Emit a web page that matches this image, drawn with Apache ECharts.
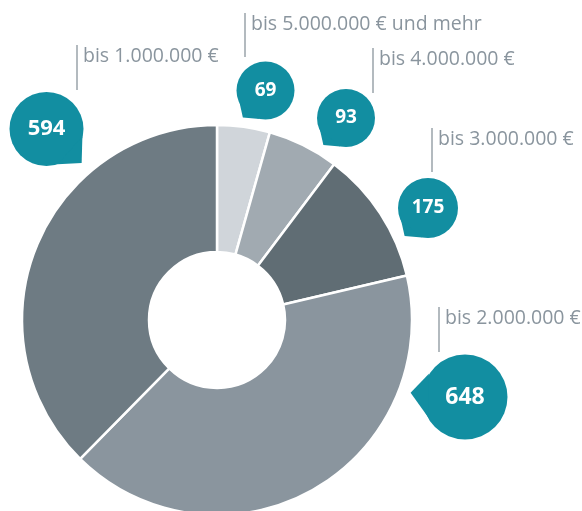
<!DOCTYPE html>
<html>
<head>
<meta charset="utf-8">
<script src="https://cdn.jsdelivr.net/npm/echarts@6/dist/echarts.min.js"></script>
<style>
  html, body { margin: 0; padding: 0; background: #fff; }
  #chart { width: 582px; height: 511px; }
</style>
</head>
<body>
<div id="chart"></div>
<script>
// Daten (im Uhrzeigersinn ab 12 Uhr)
const categories = ['bis 5.000.000 € und mehr', 'bis 4.000.000 €', 'bis 3.000.000 €', 'bis 2.000.000 €', 'bis 1.000.000 €']
const counts = [69, 93, 175, 648, 594]

// Farben der Segmente
const sliceColors = ['#d0d5da', '#a1aab1', '#606d74', '#8a959e', '#6e7b83']
const bubbleColor = '#128ea1'
const textColor = '#8a959e'

// Blasen: Mittelpunkt, Radius, Richtung der Spitze
const bubbles = [
  { x: 265.5, y: 90.5, r: 29, tail: 'bl', font: 19 },
  { x: 346, y: 118, r: 29, tail: 'bl', font: 19 },
  { x: 428, y: 208, r: 30, tail: 'bl', font: 19 },
  { x: 465, y: 397, r: 42.5, tail: 'l', font: 23 },
  { x: 46.5, y: 129, r: 37, tail: 'br', font: 22 }
]

// Beschriftungen: Linie links, Text daneben
const captions = [
  { x: 245, y1: 13, y2: 57 },
  { x: 373, y1: 48, y2: 93 },
  { x: 432, y1: 128, y2: 172 },
  { x: 439, y1: 307, y2: 352 },
  { x: 77, y1: 45, y2: 90 }
]

const chart = echarts.init(document.getElementById('chart'))

// Spitze der Sprechblase
const tailPoints = (b) => {
  const { x, y, r } = b
  if (b.tail === 'br') return [[x + r * 0.97, y + r * 0.2], [x + r * 0.95, y + r * 0.92], [x + r * 0.3, y + r * 0.95]]
  if (b.tail === 'bl') return [[x - r * 0.9, y + r * 0.4], [x - r * 0.78, y + r * 0.93], [x - r * 0.2, y + r * 0.98]]
  return [[x - r * 0.85, y - r * 0.55], [x - r * 1.28, y - r * 0.1], [x - r * 0.85, y + r * 0.5]]
}

const graphic = []
bubbles.forEach(b => {
  graphic.push({ type: 'polygon', shape: { points: tailPoints(b) }, style: { fill: bubbleColor }, z: 5 })
})
captions.forEach((c, i) => {
  graphic.push({ type: 'line', shape: { x1: c.x, y1: c.y1, x2: c.x, y2: c.y2 }, style: { stroke: '#9aa3aa', lineWidth: 1.5 } })
  graphic.push({
    type: 'text', x: c.x + 6, y: c.y1 + 11,
    style: { text: categories[i], fill: textColor, font: '19.5px "Open Sans"', verticalAlign: 'middle' }
  })
})

const option = {
  animation: false,
  graphic: graphic,
  series: [
    {
      type: 'pie',
      center: [217, 320],
      radius: [68, 195],
      startAngle: 90,
      clockwise: true,
      z: 2,
      itemStyle: { borderColor: '#fff', borderWidth: 2.5 },
      labelLine: { show: false },
      data: counts.map((v, i) => ({
        value: v,
        name: categories[i],
        itemStyle: { color: sliceColors[i] },
        label: {
          show: true,
          formatter: '{c}',
          color: '#fff',
          fontFamily: 'Open Sans',
          fontWeight: 'bold',
          fontSize: bubbles[i].font,
          backgroundColor: bubbleColor,
          width: bubbles[i].r * 2,
          height: bubbles[i].r * 2,
          lineHeight: bubbles[i].r * 2,
          borderRadius: bubbles[i].r,
          align: 'center'
        }
      })),
      labelLayout: (params) => ({
        x: bubbles[params.dataIndex].x,
        y: bubbles[params.dataIndex].y,
        align: 'center',
        verticalAlign: 'middle'
      })
    }
  ]
}

chart.setOption(option)
</script>
</body>
</html>
